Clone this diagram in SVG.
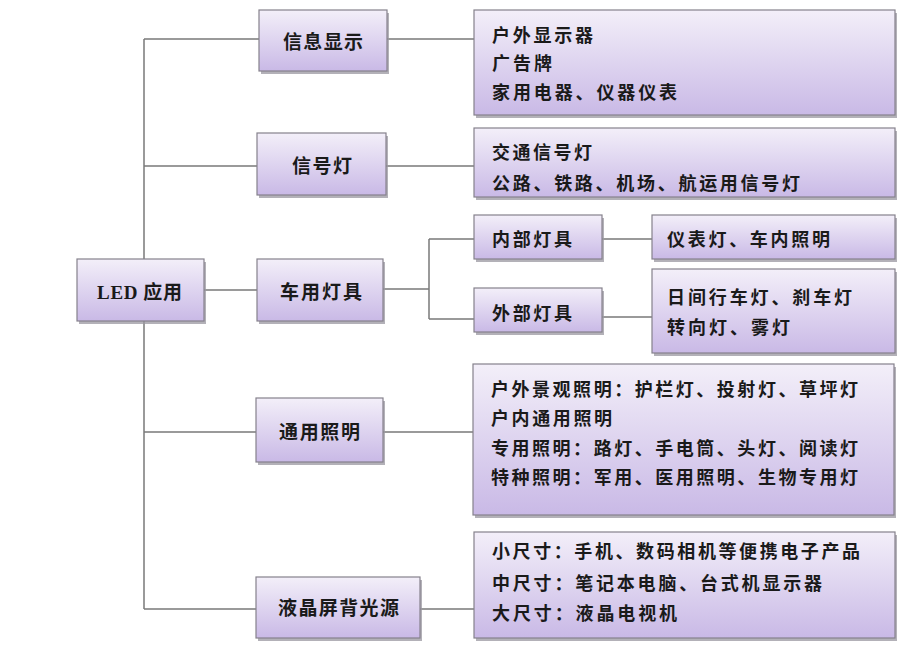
<svg xmlns="http://www.w3.org/2000/svg" width="923" height="650" viewBox="0 0 923 650">
<defs>
<linearGradient id="g" x1="0" y1="0" x2="0" y2="1">
<stop offset="0" stop-color="#f3eff9"/>
<stop offset="1" stop-color="#c9b9e6"/>
</linearGradient>
<style>
.b{fill:url(#g);stroke:#85818c;stroke-width:1.2}
.s{fill:#9a97a0;opacity:0.75}
.t{font-family:"Noto Sans CJK SC","Noto Sans CJK JP",sans-serif;font-size:18px;font-weight:700;fill:#1a1a1a}
.n{font-size:19px}
.r{font-family:"Liberation Serif",serif}
.c{fill:none;stroke:#7a7a7a;stroke-width:1.5}
</style>
</defs>
<rect width="923" height="650" fill="#ffffff"/>
<g id="connectors">
<path class="c" d="M144,39V259M144,321V609M144,39H259M144,166H257M204,290H257M144,432H256M144,609H256"/>
<path class="c" d="M387,39H474M386,166H474M383,289H429M429,239V319M429,239H474M429,319H474M602,239H652M602,317H652M383,432H473M420,609H474"/>
</g>
<g id="led">
<rect class="s" x="79" y="262" width="127" height="62"/>
<rect class="b" x="77" y="259" width="127" height="62"/>
<text class="t n" x="97" y="299" textLength="85" lengthAdjust="spacing"><tspan class="r">LED</tspan> 应用</text>
</g>
<g id="xinxi">
<rect class="s" x="261" y="13" width="128" height="61"/>
<rect class="b" x="259" y="10" width="128" height="61"/>
<text class="t n" x="283" y="49" textLength="80" lengthAdjust="spacing">信息显示</text>
</g>
<g id="xinhao">
<rect class="s" x="259" y="136" width="129" height="62"/>
<rect class="b" x="257" y="133" width="129" height="62"/>
<text class="t n" x="292" y="173" textLength="60" lengthAdjust="spacing">信号灯</text>
</g>
<g id="cheyong">
<rect class="s" x="259" y="262" width="126" height="62"/>
<rect class="b" x="257" y="259" width="126" height="62"/>
<text class="t n" x="280" y="299" textLength="82" lengthAdjust="spacing">车用灯具</text>
</g>
<g id="tongyong">
<rect class="s" x="258" y="401" width="127" height="64"/>
<rect class="b" x="256" y="398" width="127" height="64"/>
<text class="t n" x="279" y="439" textLength="81" lengthAdjust="spacing">通用照明</text>
</g>
<g id="yejing">
<rect class="s" x="258" y="580" width="164" height="61"/>
<rect class="b" x="256" y="577" width="164" height="61"/>
<text class="t n" x="278" y="615" textLength="121" lengthAdjust="spacing">液晶屏背光源</text>
</g>
<g id="xinxi-d">
<rect class="s" x="476" y="13" width="421" height="105"/>
<rect class="b" x="474" y="10" width="421" height="105"/>
<text class="t" x="492" y="42" textLength="101" lengthAdjust="spacing">户外显示器</text>
<text class="t" x="492" y="70" textLength="60" lengthAdjust="spacing">广告牌</text>
<text class="t" x="492" y="99" textLength="185" lengthAdjust="spacing">家用电器、仪器仪表</text>
</g>
<g id="xinhao-d">
<rect class="s" x="476" y="131" width="421" height="69"/>
<rect class="b" x="474" y="128" width="421" height="69"/>
<text class="t" x="492" y="159" textLength="100" lengthAdjust="spacing">交通信号灯</text>
<text class="t" x="492" y="190" textLength="308" lengthAdjust="spacing">公路、铁路、机场、航运用信号灯</text>
</g>
<g id="neibu">
<rect class="s" x="476" y="218" width="128" height="44"/>
<rect class="b" x="474" y="215" width="128" height="44"/>
<text class="t" x="492" y="246" textLength="80" lengthAdjust="spacing">内部灯具</text>
</g>
<g id="waibu">
<rect class="s" x="476" y="291" width="128" height="44"/>
<rect class="b" x="474" y="288" width="128" height="44"/>
<text class="t" x="492" y="320" textLength="80" lengthAdjust="spacing">外部灯具</text>
</g>
<g id="neibu-d">
<rect class="s" x="654" y="218" width="243" height="44"/>
<rect class="b" x="652" y="215" width="243" height="44"/>
<text class="t" x="667" y="246" textLength="163" lengthAdjust="spacing">仪表灯、车内照明</text>
</g>
<g id="waibu-d">
<rect class="s" x="654" y="272" width="243" height="84"/>
<rect class="b" x="652" y="269" width="243" height="84"/>
<text class="t" x="667" y="304" textLength="185" lengthAdjust="spacing">日间行车灯、刹车灯</text>
<text class="t" x="667" y="334" textLength="123" lengthAdjust="spacing">转向灯、雾灯</text>
</g>
<g id="tongyong-d">
<rect class="s" x="475" y="367" width="421" height="151"/>
<rect class="b" x="473" y="364" width="421" height="151"/>
<text class="t" x="491" y="396" textLength="367" lengthAdjust="spacing">户外景观照明：护栏灯、投射灯、草坪灯</text>
<text class="t" x="491" y="425" textLength="121" lengthAdjust="spacing">户内通用照明</text>
<text class="t" x="491" y="455" textLength="367" lengthAdjust="spacing">专用照明：路灯、手电筒、头灯、阅读灯</text>
<text class="t" x="491" y="484" textLength="367" lengthAdjust="spacing">特种照明：军用、医用照明、生物专用灯</text>
</g>
<g id="yejing-d">
<rect class="s" x="476" y="535" width="421" height="106"/>
<rect class="b" x="474" y="532" width="421" height="106"/>
<text class="t" x="492" y="558" textLength="368" lengthAdjust="spacing">小尺寸：手机、数码相机等便携电子产品</text>
<text class="t" x="492" y="590" textLength="330" lengthAdjust="spacing">中尺寸：笔记本电脑、台式机显示器</text>
<text class="t" x="492" y="620" textLength="185" lengthAdjust="spacing">大尺寸：液晶电视机</text>
</g>
</svg>
